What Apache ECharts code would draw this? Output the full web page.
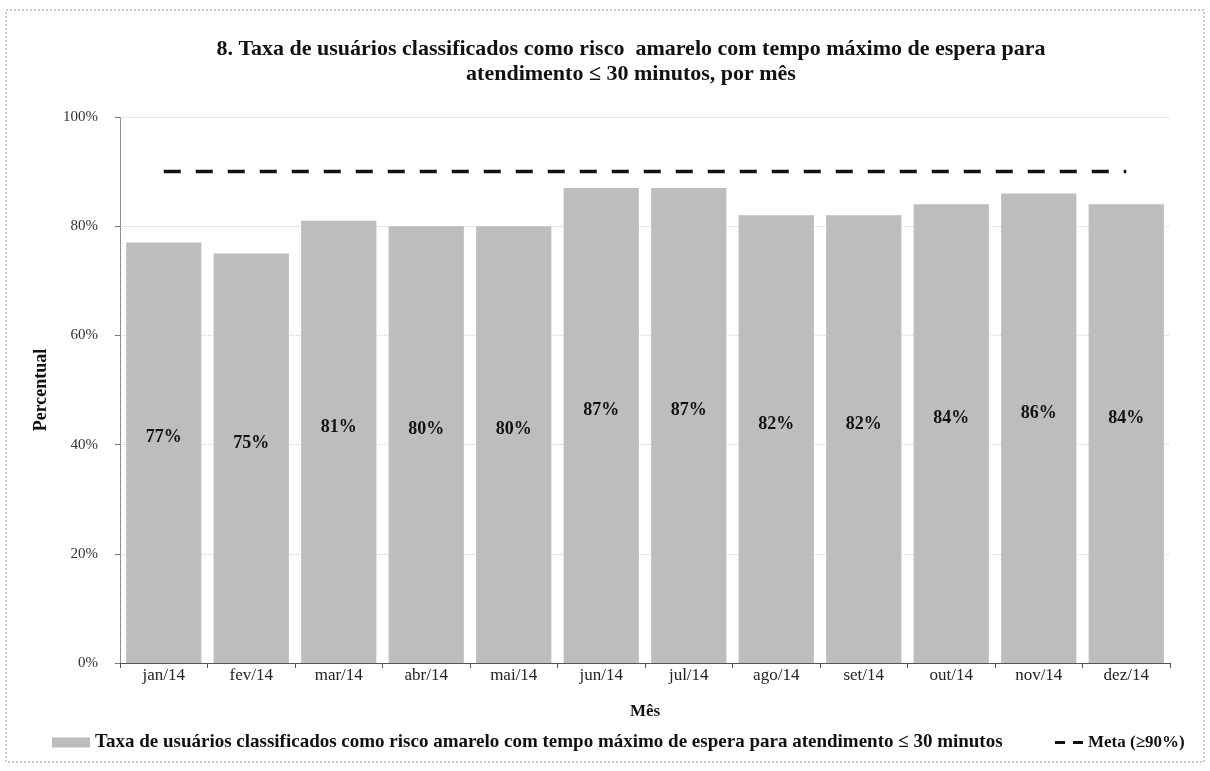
<!DOCTYPE html>
<html>
<head>
<meta charset="utf-8">
<script src="https://cdn.jsdelivr.net/npm/echarts@6/dist/echarts.min.js"></script>
<style>
html,body{margin:0;padding:0;background:#fff;}
#chart{width:1210px;height:771px;}
</style>
</head>
<body>
<div id="chart"></div>
<script>
const categories = ['jan/14','fev/14','mar/14','abr/14','mai/14','jun/14','jul/14','ago/14','set/14','out/14','nov/14','dez/14'];
const taxaValues = [77,75,81,80,80,87,87,82,82,84,86,84];
const metaValues = [90,90,90,90,90,90,90,90,90,90,90,90];
const yTicks = [0,20,40,60,80,100];
const seriesNames = ['Taxa de usuários classificados como risco amarelo com tempo máximo de espera para atendimento ≤ 30 minutos', 'Meta (≥90%)'];
const titleText = '8. Taxa de usuários classificados como risco  amarelo com tempo máximo de espera para\natendimento ≤ 30 minutos, por mês';

const serif = '"Liberation Serif", "DejaVu Serif", serif';
const chart = echarts.init(document.getElementById('chart'));
chart.setOption({
  backgroundColor: '#fff',
  animation: false,
  title: {
    text: titleText,
    left: 626,
    top: 32,
    textAlign: 'center',
    textStyle: {fontFamily: serif, fontWeight: 'bold', fontSize: 22, color: '#111', lineHeight: 25}
  },
  graphic: [{
    type: 'rect', shape: {x: 6, y: 10, width: 1198, height: 752},
    style: {fill: 'none', stroke: '#999', lineWidth: 1, lineDash: [2, 2]}, silent: true, z: -1
  }],
  grid: {left: 120, right: 40, top: 117, bottom: 108},
  legend: [
    {
      left: 47,
      top: 728,
      itemWidth: 38,
      itemHeight: 10,
      textStyle: {fontFamily: serif, fontWeight: 'bold', fontSize: 19, color: '#111'},
      data: [{name: seriesNames[0], icon: 'rect'}]
    },
    {
      left: 1050,
      top: 729,
      itemWidth: 28,
      itemHeight: 3,
      itemGap: 0,
      textStyle: {fontFamily: serif, fontWeight: 'bold', fontSize: 17, color: '#111'},
      data: [{name: seriesNames[1], icon: 'path://M0,0h10v3h-10z M18,0h10v3h-10z'}]
    }
  ],
  xAxis: {
    type: 'category',
    data: categories,
    name: 'Mês',
    nameLocation: 'middle',
    nameGap: 40,
    nameTextStyle: {fontFamily: serif, fontWeight: 'bold', fontSize: 17, color: '#111'},
    axisLine: {lineStyle: {color: '#555', width: 1}},
    axisTick: {show: true, alignWithLabel: false, lineStyle: {color: '#555'}},
    axisLabel: {fontFamily: serif, fontSize: 17, color: '#222', margin: 4}
  },
  yAxis: {
    type: 'value',
    min: 0, max: 100, interval: 20,
    name: 'Percentual',
    nameLocation: 'middle',
    nameGap: 70,
    nameTextStyle: {fontFamily: serif, fontWeight: 'bold', fontSize: 18, color: '#111'},
    axisLine: {show: true, lineStyle: {color: '#777', type: 'dotted'}},
    axisTick: {show: true, lineStyle: {color: '#777'}},
    axisLabel: {fontFamily: serif, fontSize: 15, color: '#333', margin: 22,
      formatter: v => yTicks.includes(v) ? v + '%' : ''},
    splitLine: {show: true, lineStyle: {color: '#d4d4d4', type: 'dotted'}}
  },
  series: [
    {
      name: seriesNames[0],
      type: 'bar',
      data: taxaValues,
      barCategoryGap: '14%',
      itemStyle: {color: '#bdbdbd'},
      label: {show: true, position: 'inside', offset: [0, -15], formatter: '{c}%',
        fontFamily: serif, fontWeight: 'bold', fontSize: 18, color: '#111'}
    },
    {
      name: seriesNames[1],
      type: 'line',
      data: metaValues,
      symbol: 'none',
      itemStyle: {color: '#111'},
      lineStyle: {color: '#111', width: 3.5, type: [17, 15]},
      z: 5
    }
  ]
});
</script>
</body>
</html>
